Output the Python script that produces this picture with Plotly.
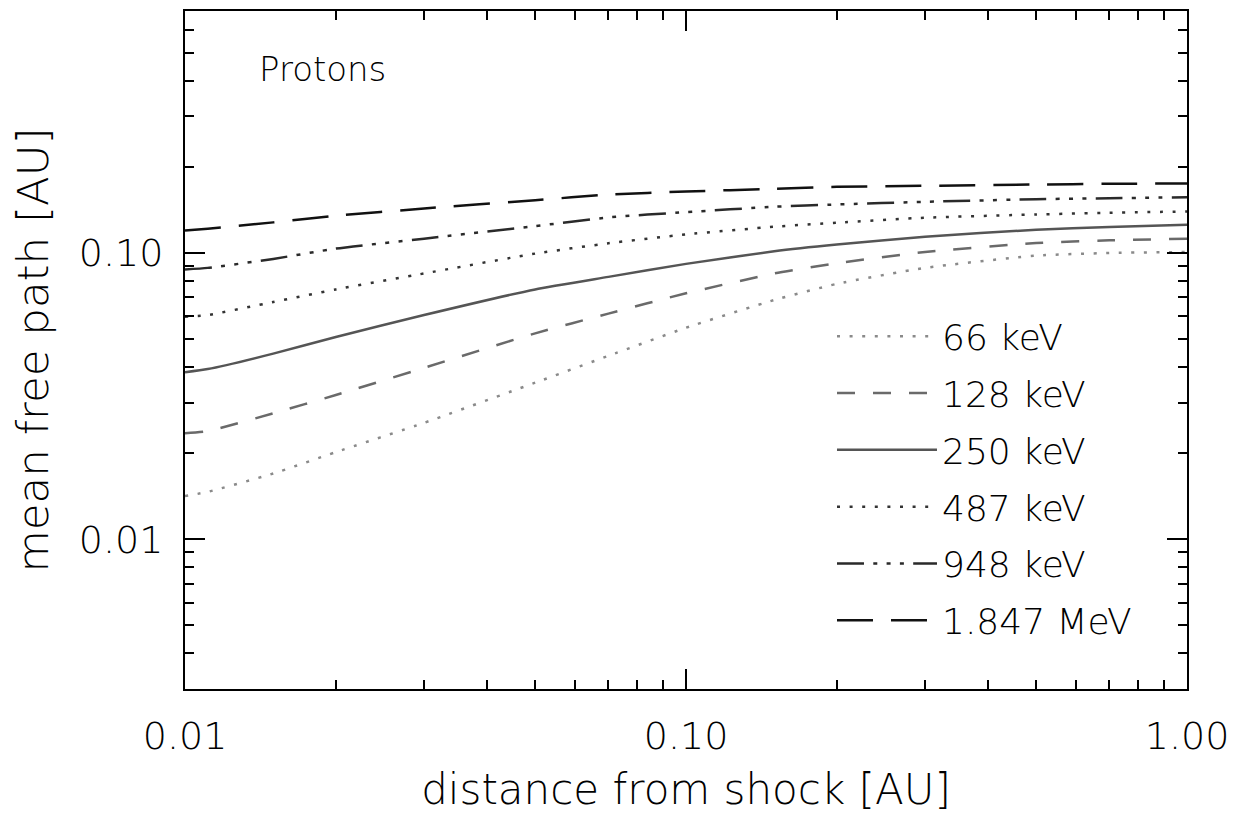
import plotly.graph_objects as go

distance = [0.01, 0.0111, 0.015, 0.02, 0.03, 0.05, 0.07, 0.1, 0.15, 0.2, 0.3, 0.5, 0.7, 1.0]

mfp_66 = [0.01415, 0.01464, 0.01697, 0.02016, 0.02551, 0.03523, 0.04373, 0.0548, 0.0685, 0.0780, 0.0887, 0.0979, 0.1000, 0.1008]
mfp_128 = [0.02348, 0.02385, 0.02755, 0.0319, 0.0397, 0.0524, 0.0614, 0.0723, 0.0848, 0.0921, 0.1008, 0.1083, 0.1107, 0.1122]
mfp_250 = [0.0383, 0.0393, 0.0445, 0.0509, 0.0607, 0.0746, 0.0825, 0.0916, 0.1014, 0.1070, 0.1140, 0.1206, 0.1231, 0.1255]
mfp_487 = [0.0599, 0.0607, 0.0674, 0.0746, 0.0848, 0.0995, 0.1081, 0.1161, 0.1235, 0.1276, 0.1328, 0.1363, 0.1382, 0.1396]
mfp_948 = [0.0876, 0.0887, 0.0953, 0.1036, 0.1122, 0.1241, 0.1331, 0.1389, 0.1450, 0.1477, 0.1509, 0.1541, 0.1553, 0.1566]
mfp_1847 = [0.1199, 0.1216, 0.1279, 0.1349, 0.1430, 0.1528, 0.1600, 0.1639, 0.1675, 0.1702, 0.1716, 0.1734, 0.1744, 0.1748]

labels = ["66 keV", "128 keV", "250 keV", "487 keV", "948 keV", "1.847 MeV"]

x_ticks = [0.01, 0.1, 1.0]
x_tick_text = ["0.01", "0.10", "1.00"]
y_ticks = [0.01, 0.1]
y_tick_text = ["0.01", "0.10"]
x_minor = [0.02, 0.03, 0.04, 0.05, 0.06, 0.07, 0.08, 0.09,
           0.2, 0.3, 0.4, 0.5, 0.6, 0.7, 0.8, 0.9]
y_minor = [0.003, 0.004, 0.005, 0.006, 0.007, 0.008, 0.009,
           0.02, 0.03, 0.04, 0.05, 0.06, 0.07, 0.08, 0.09,
           0.2, 0.3, 0.4, 0.5, 0.6, 0.7]

series = [mfp_66, mfp_128, mfp_250, mfp_487, mfp_948, mfp_1847]
colors = ["#8a8a8a", "#6a6a6a", "#555555", "#333333", "#2a2a2a", "#111111"]
dashes = ["3px,9.6px", "18px,18px", "solid", "3px,9.6px",
          "27px,9.3px,4px,9.3px,4px,9.3px,4px,9.3px", "36px,18px"]

FONT = "DejaVu Sans"
W = 200

fig = go.Figure()
for i, (ys, lab) in enumerate(zip(series, labels)):
    fig.add_trace(go.Scatter(
        x=distance, y=ys, mode="lines", name=lab, legendgroup=str(i),
        line=dict(color=colors[i], width=2.5, dash=dashes[i], shape="spline", smoothing=0.5),
    ))

axis_common = dict(
    type="log", showline=True, linecolor="black", linewidth=2, mirror="allticks",
    ticks="inside", ticklen=20, tickwidth=2, tickcolor="black",
    showgrid=False, zeroline=False,
    tickfont=dict(family=FONT, size=38, color="black", weight=W),
)

fig.update_xaxes(
    **axis_common,
    range=[-2, 0], tickmode="array", tickvals=x_ticks, ticktext=x_tick_text,
    minor=dict(tickmode="array", tickvals=x_minor, ticklen=9, tickwidth=2, tickcolor="black", ticks="inside"),
    title_text="distance from shock [AU]", title_standoff=18, ticklabelstandoff=12,
    title_font=dict(family=FONT, size=42, color="black", weight=W),
)
fig.update_yaxes(
    **axis_common,
    range=[-2.5229, -0.1549], tickmode="array", tickvals=y_ticks, ticktext=y_tick_text,
    minor=dict(tickmode="array", tickvals=y_minor, ticklen=9, tickwidth=2, tickcolor="black", ticks="inside"),
    title_text="mean free path [AU]", title_standoff=22, ticklabelstandoff=12,
    title_font=dict(family=FONT, size=43.5, color="black", weight=W),
)

fig.add_annotation(text="Protons", xref="paper", yref="paper", x=0.072, y=0.915,
                   xanchor="left", yanchor="middle", showarrow=False,
                   font=dict(family=FONT, size=34, color="black", weight=W))

fig.update_layout(
    width=1237, height=813,
    margin=dict(l=177, r=58, t=1, b=132),
    paper_bgcolor="white", plot_bgcolor="white",
    showlegend=True,
    legend=dict(x=0.6457, y=0.5644, xanchor="left", yanchor="top",
                bgcolor="rgba(0,0,0,0)", borderwidth=0,
                itemwidth=100, tracegroupgap=7,
                font=dict(family=FONT, size=36, color="black", weight=W)),
)

fig.write_html("out.html")
